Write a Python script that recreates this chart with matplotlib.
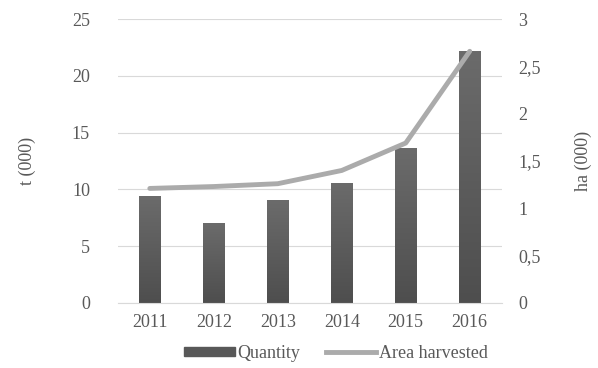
import matplotlib
matplotlib.use("Agg")
import matplotlib.pyplot as plt
import numpy as np
from matplotlib.colors import LinearSegmentedColormap
from matplotlib.lines import Line2D
from matplotlib.patches import Patch

years = ["2011", "2012", "2013", "2014", "2015", "2016"]
quantity = [9.4, 7.0, 9.05, 10.6, 13.65, 22.2]          # t (000)
area_harvested = [1.21, 1.23, 1.26, 1.40, 1.69, 2.66]   # ha (000)

plt.rcParams['font.family'] = ['Liberation Serif', 'DejaVu Serif']
text_col = "#595959"
fs = 13

fig = plt.figure(figsize=(5.98, 3.68), dpi=100)
ax = fig.add_axes([0.197, 0.177, 0.642, 0.771])
ax2 = ax.twinx()

x = np.arange(len(years))
bars = ax.bar(x, quantity, width=0.33, color="#5a5a5a", zorder=2)

# soft vertical gradient on the bars (lighter top)
grad_cmap = LinearSegmentedColormap.from_list("g", ["#4e4e4e", "#6b6b6b"])
grad = np.linspace(0, 1, 128).reshape(-1, 1)
for b in bars:
    x0, w, h = b.get_x(), b.get_width(), b.get_height()
    im = ax.imshow(grad, extent=[x0, x0 + w, 0, h], origin="lower",
                   aspect="auto", cmap=grad_cmap, zorder=2.1)
    im.set_clip_path(b)

ax2.plot(x, area_harvested, color="#ababab", lw=3.5, solid_capstyle="round", zorder=3)

ax.set_xlim(-0.5, len(years) - 0.5)
ax.set_ylim(0, 25)
ax2.set_ylim(0, 3)
ax.set_yticks(np.arange(0, 26, 5))
ax2.set_yticks(np.arange(0, 3.01, 0.5))
ax2.set_yticklabels(["0", "0,5", "1", "1,5", "2", "2,5", "3"])
ax.set_xticks(x)
ax.set_xticklabels(years)

ax.grid(axis="y", color="#d9d9d9", lw=0.8, zorder=0)
ax.set_axisbelow(True)
for a in (ax, ax2):
    for s in a.spines.values():
        s.set_visible(False)
    a.tick_params(length=0, labelsize=fs, colors=text_col)
ax.spines["bottom"].set_visible(True)
ax.spines["bottom"].set_color("#d9d9d9")
ax.tick_params(axis="y", pad=20)
ax2.tick_params(axis="y", pad=12)
ax.tick_params(axis="x", pad=8)

ax.set_ylabel("t (000)", fontsize=fs, color=text_col, labelpad=26)
ax2.set_ylabel("ha (000)", fontsize=fs, color=text_col, labelpad=24)

handles = [Patch(color="#585858"), Line2D([0], [0], color="#ababab", lw=3.5)]
fig.legend(handles, ["Quantity", "Area harvested"], loc="center",
           bbox_to_anchor=(0.562, 0.04), ncol=2, frameon=False,
           fontsize=fs, labelcolor=text_col, handlelength=2.8,
           handleheight=0.4, handletextpad=0.15, columnspacing=1.4)

fig.savefig("out.png", dpi=100)
